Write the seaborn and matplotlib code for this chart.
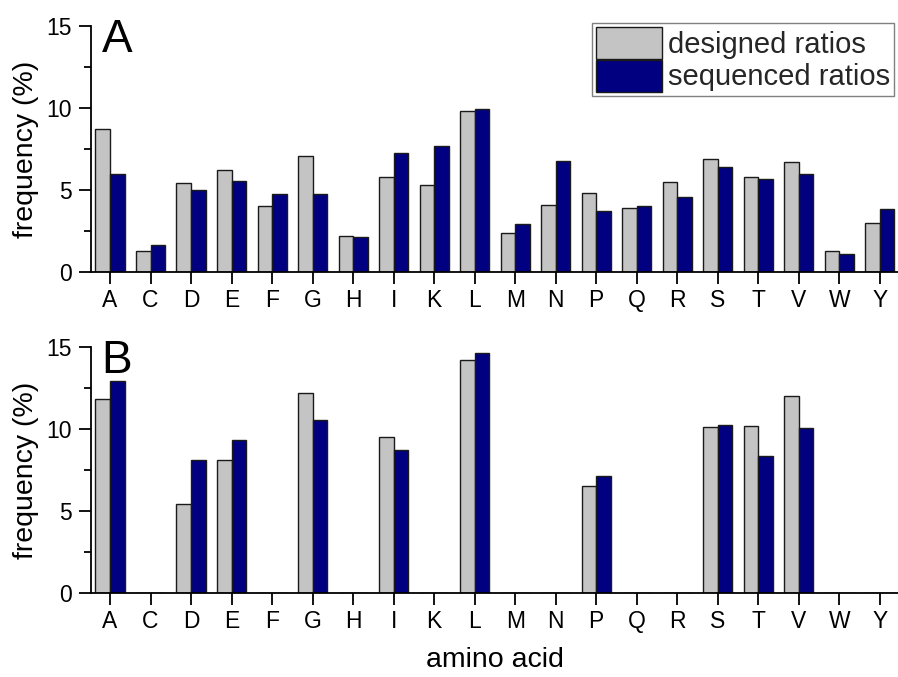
import matplotlib
matplotlib.use("Agg")
import matplotlib.pyplot as plt
from matplotlib.ticker import MultipleLocator
import seaborn as sns
import pandas as pd

amino_acids = ["A", "C", "D", "E", "F", "G", "H", "I", "K", "L",
               "M", "N", "P", "Q", "R", "S", "T", "V", "W", "Y"]

a_designed = [8.7, 1.3, 5.4, 6.2, 4.0, 7.1, 2.2, 5.8, 5.3, 9.8,
              2.4, 4.1, 4.8, 3.9, 5.5, 6.9, 5.8, 6.7, 1.3, 3.0]
a_sequenced = [6.0, 1.65, 5.0, 5.55, 4.75, 4.75, 2.15, 7.25, 7.7, 9.95,
               2.9, 6.75, 3.75, 4.0, 4.6, 6.4, 5.65, 6.0, 1.1, 3.85]

b_designed = [11.8, 0, 5.4, 8.1, 0, 12.2, 0, 9.5, 0, 14.2,
              0, 0, 6.5, 0, 0, 10.1, 10.2, 12.0, 0, 0]
b_sequenced = [12.95, 0, 8.1, 9.3, 0, 10.55, 0, 8.7, 0, 14.65,
               0, 0, 7.15, 0, 0, 10.25, 8.35, 10.05, 0, 0]

series_names = ["designed ratios", "sequenced ratios"]
panel_labels = ["A", "B"]
palette = {"designed ratios": "#c4c4c4", "sequenced ratios": "#000080"}


def long_df(designed, sequenced):
    return pd.DataFrame({
        "amino acid": amino_acids * 2,
        "frequency": designed + sequenced,
        "series": [series_names[0]] * len(amino_acids) + [series_names[1]] * len(amino_acids),
    })


sns.set_theme(style="ticks")
plt.rcParams["font.family"] = ["Liberation Sans", "DejaVu Sans"]

fig = plt.figure(figsize=(8.98, 6.77), dpi=100)
ax_a = fig.add_axes([91 / 898, (677 - 272) / 677, (898 - 91) / 898, 246 / 677])
ax_b = fig.add_axes([91 / 898, (677 - 593) / 677, (898 - 91) / 898, 246 / 677])

datasets = [(a_designed, a_sequenced), (b_designed, b_sequenced)]
for ax, (des, seq), lab in zip([ax_a, ax_b], datasets, panel_labels):
    df = long_df(des, seq)
    sns.barplot(data=df, x="amino acid", y="frequency", hue="series",
                order=amino_acids, hue_order=series_names, palette=palette,
                width=0.72, gap=0, edgecolor="#1a1a1a", linewidth=1.0,
                saturation=1, ax=ax, legend=(ax is ax_a))
    ax.set_xlim(-0.47, 19.45)
    ax.set_ylim(0, 15)
    ax.yaxis.set_major_locator(MultipleLocator(5))
    ax.yaxis.set_minor_locator(MultipleLocator(2.5))
    ax.tick_params(axis="both", which="major", direction="out", length=8.5,
                   width=1.3, color="black", labelsize=16.5, labelcolor="black")
    ax.tick_params(axis="x", which="major", pad=3.5)
    ax.tick_params(axis="y", which="major", pad=5)
    ax.tick_params(axis="y", which="minor", direction="out", length=5, width=1.3, color="black")
    for s in ["top", "right"]:
        ax.spines[s].set_visible(False)
    for s in ["left", "bottom"]:
        ax.spines[s].set_linewidth(1.3)
        ax.spines[s].set_color("black")
    ax.set_ylabel("frequency (%)", fontsize=20.5, color="black")
    ax.yaxis.set_label_coords(-0.064, 0.5)
    ax.set_xlabel("")
    ax.text(0.013, 0.894, lab, transform=ax.transAxes, fontsize=33,
            va="baseline", ha="left", color="black")

ax_b.set_xlabel("amino acid", fontsize=20.5, color="black")
ax_b.xaxis.set_label_coords(0.5, -0.2195)

leg = ax_a.legend(loc="upper right", bbox_to_anchor=(894 / 898, 1 - 23 / 677),
                  bbox_transform=fig.transFigure, fontsize=21, frameon=True,
                  fancybox=False, edgecolor="#808080", framealpha=1,
                  handlelength=2.25, handleheight=1.3, labelspacing=0.02,
                  handletextpad=0.2, borderpad=0.15, borderaxespad=0, title=None)
leg.get_frame().set_linewidth(1.0)

fig.savefig("out.png", dpi=100)
